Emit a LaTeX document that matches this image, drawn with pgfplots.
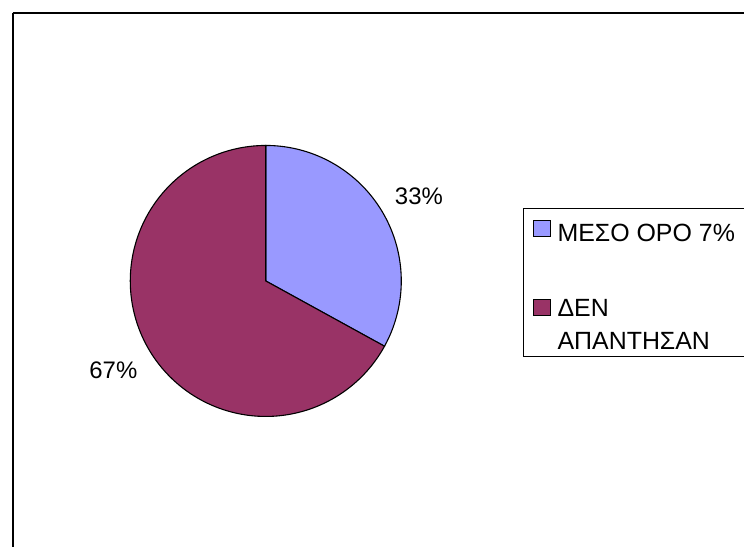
\documentclass[border=0pt]{standalone}
\usepackage{fontspec}
\setmainfont{Liberation Sans}
\usepackage{pgfplots}
\usepackage{pgfplotstable}
\pgfplotsset{compat=1.18}
\definecolor{pieblue}{HTML}{9999FF}
\definecolor{piered}{HTML}{993366}
\pgfplotsset{
  sqA/.style={legend image code/.code={\draw[##1,draw=black,line width=0.9bp] (0bp,-8bp) rectangle (17bp,8bp);
    \path[draw=none,fill=none] (0bp,0bp) rectangle (24bp,0bp);}},
  sqB/.style={legend image code/.code={\draw[##1,draw=black,line width=0.9bp] (0bp,9bp) rectangle (17bp,25bp);
    \path[draw=none,fill=none] (0bp,0bp) rectangle (24bp,41bp);}},
}
\pgfplotstableread{
share
33
67
}\piedata
\begin{document}
\pgfplotstablegetelem{0}{share}\of\piedata \let\va\pgfplotsretval
\pgfplotstablegetelem{1}{share}\of\piedata \let\vb\pgfplotsretval
\pgfmathsetmacro\angA{360*\va/(\va+\vb)}
\begin{tikzpicture}
\useasboundingbox (0,0) rectangle (744bp,549bp);
\begin{axis}[
  at={(0,0)}, anchor=south west,
  scale only axis, width=744bp, height=549bp,
  xmin=0, xmax=744, ymin=0, ymax=549, y dir=reverse,
  hide axis, clip=false,
  legend cell align=left,
  legend style={at={(0.7016,0.6193)}, anchor=north west, draw=black, line width=0.9bp,
    font=\fontsize{25bp}{33bp}\selectfont, inner xsep=10bp, inner ysep=6bp,
    nodes={inner sep=0pt},
    row sep=41bp},
]
\draw[black, line width=1.6bp] (axis cs:10,13) -- (axis cs:10,560);
\draw[black, line width=1.6bp] (axis cs:10,13) -- (axis cs:760,13);
\addplot[sqA, fill=pieblue, draw=black, line width=1.1bp, domain=0:\angA, samples=120, variable=\t]
  ({264+136*sin(\t)}, {282-136*cos(\t)}) -- (axis cs:264,282) -- cycle;
\addlegendentry{\parbox[t]{200bp}{\rule{0pt}{27bp}ΜΕΣΟ ΟΡΟ 7\%}}
\addplot[sqB, fill=piered, draw=black, line width=1.1bp, domain=\angA:360, samples=240, variable=\t]
  ({264+136*sin(\t)}, {282-136*cos(\t)}) -- (axis cs:264,282) -- cycle;
\addlegendentry{\parbox[b]{200bp}{ΔΕΝ\\ΑΠΑΝΤΗΣΑΝ}}
\node[font=\fontsize{24bp}{28bp}\selectfont, inner sep=0pt] at (axis cs:417.7,196.7) {33\%};
\node[font=\fontsize{24bp}{28bp}\selectfont, inner sep=0pt] at (axis cs:111,371.7) {67\%};
\end{axis}
\end{tikzpicture}
\end{document}
